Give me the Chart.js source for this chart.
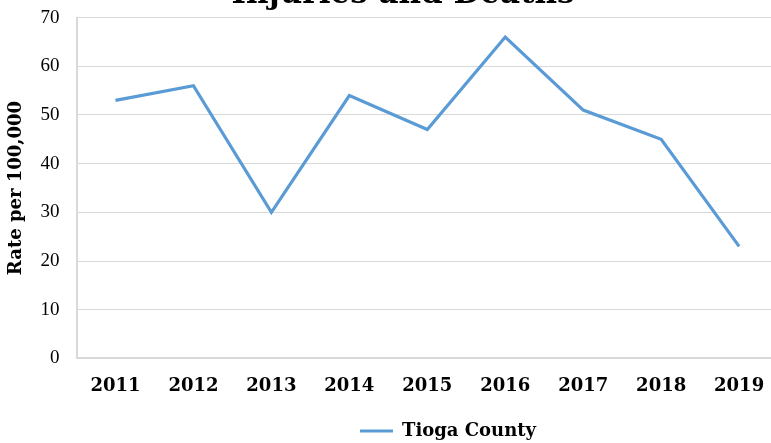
<!DOCTYPE html>
<html>
<head>
<meta charset="utf-8">
<script src="https://cdn.jsdelivr.net/npm/chart.js@4.4.1/dist/chart.umd.min.js"></script>
<style>
  html, body { margin: 0; padding: 0; background: #fff; overflow: hidden; width: 771px; height: 443px; }
  #wrap { position: absolute; left: 0; top: -20px; width: 806px; height: 478px; }
</style>
</head>
<body>
<div id="wrap"><canvas id="chart"></canvas></div>
<script>
// values
var years = ['2011', '2012', '2013', '2014', '2015', '2016', '2017', '2018', '2019'];
var tiogaRates = [53, 56, 30, 54, 47, 66, 51, 45, 23];
var seriesName = 'Tioga County';
var chartTitle = 'Injuries and Deaths';
var yAxisTitle = 'Rate per 100,000';

var boldSerif = { family: '"DejaVu Serif"', weight: 'bold', size: 18 };

// the legend in the original sits right of centre
var legendShift = {
    id: 'legendShift',
    afterLayout: function(chart) {
        chart.legend.left += 45;
        chart.legend.right += 45;
    }
};

window.onload = function() {
    var ctx = document.getElementById('chart').getContext('2d');
    window.myLine = new Chart(ctx, {
        type: 'line',
        data: {
            labels: years,
            datasets: [{
                label: seriesName,
                data: tiogaRates,
                borderColor: '#5b9bd5',
                backgroundColor: '#5b9bd5',
                borderWidth: 3.2,
                pointRadius: 0,
                tension: 0,
                fill: false
            }]
        },
        plugins: [legendShift],
        options: {
            responsive: true,
            maintainAspectRatio: false,
            animation: false,
            layout: { padding: { left: 5.9, right: 5.9, top: 0, bottom: 8 } },
            plugins: {
                title: {
                    display: true,
                    text: chartTitle,
                    color: '#000',
                    font: { family: '"DejaVu Serif"', weight: 'bold', size: 31 },
                    padding: { top: -4, bottom: 4.4 }
                },
                legend: {
                    position: 'bottom',
                    labels: {
                        usePointStyle: true,
                        pointStyle: 'line',
                        pointStyleWidth: 33,
                        color: '#000',
                        font: boldSerif,
                        padding: 8
                    }
                },
                tooltip: { enabled: false }
            },
            scales: {
                x: {
                    offset: true,
                    grid: { display: false, drawTicks: false },
                    border: { color: '#d9d9d9', width: 2 },
                    ticks: { color: '#000', font: boldSerif, padding: 17, maxRotation: 0 }
                },
                y: {
                    min: 0,
                    max: 70,
                    grid: { color: '#d9d9d9', lineWidth: 1, drawTicks: false },
                    border: { color: '#d9d9d9', width: 2 },
                    ticks: {
                        stepSize: 10,
                        color: '#000',
                        padding: 17,
                        font: { family: '"Liberation Serif"', size: 19 }
                    },
                    title: {
                        display: true,
                        text: yAxisTitle,
                        color: '#000',
                        font: { family: '"DejaVu Serif"', weight: 'bold', size: 18 },
                        padding: { top: 0, bottom: -4 }
                    }
                },
                // empty spacer on the right so the title centres like the original
                spacer: {
                    position: 'right',
                    display: true,
                    grid: { display: false, drawTicks: false },
                    border: { display: false },
                    ticks: { display: false },
                    afterFit: function(scale) { scale.width = 22; }
                }
            }
        }
    });
};
</script>
</body>
</html>
